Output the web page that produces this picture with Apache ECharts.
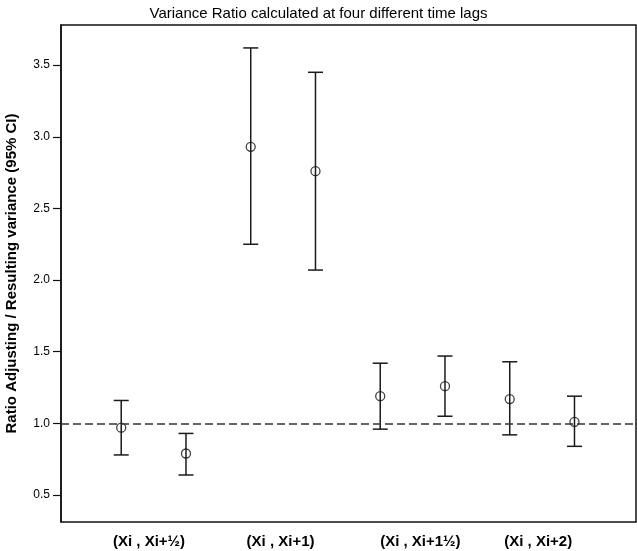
<!DOCTYPE html>
<html>
<head>
<meta charset="utf-8">
<script src="https://cdn.jsdelivr.net/npm/echarts@6/dist/echarts.min.js"></script>
<style>html,body{margin:0;padding:0;background:#fff}#c{width:637px;height:551px}</style>
</head>
<body>
<div id="c"></div>
<script>
// Data
const xPos = [1, 2, 3, 4, 5, 6, 7, 8];
const ratio = [0.97, 0.79, 2.93, 2.76, 1.19, 1.26, 1.17, 1.01];
const lower = [0.78, 0.64, 2.25, 2.07, 0.96, 1.05, 0.92, 0.84];
const upper = [1.16, 0.93, 3.62, 3.45, 1.42, 1.47, 1.43, 1.19];
const groupLabels = ['(Xi , Xi+½)', '(Xi , Xi+1)', '(Xi , Xi+1½)', '(Xi , Xi+2)'];
const groupLabelPos = [1.43, 3.46, 5.62, 7.44];
const yTicks = [0.5, 1.0, 1.5, 2.0, 2.5, 3.0, 3.5];
const refLine = 1.0;

const chart = echarts.init(document.getElementById('c'), null, {renderer: 'canvas'});
const FONT = 'Liberation Sans, Arial, sans-serif';

const errData = xPos.map((x, i) => [x, lower[i], upper[i]]);
const ptData = xPos.map((x, i) => [x, ratio[i]]);

chart.setOption({
  animation: false,
  backgroundColor: '#fff',
  title: {
    text: 'Variance Ratio calculated at four different time lags',
    left: 'center', top: 1,
    textStyle: {fontFamily: FONT, fontSize: 15, fontWeight: 'normal', color: '#000'}
  },
  grid: {left: 61, right: 1, top: 25, bottom: 29, show: true, borderColor: '#111', borderWidth: 1.5,
         backgroundColor: 'transparent', containLabel: false, outerBoundsMode: 'none'},
  xAxis: {
    type: 'value', min: 0.07, max: 8.95,
    axisLine: {show: false},
    axisTick: {show: false},
    splitLine: {show: false},
    axisLabel: {
      customValues: groupLabelPos,
      margin: 12,
      fontFamily: FONT, fontSize: 15, fontWeight: 'bold', color: '#000',
      formatter: function (v) {
        for (let i = 0; i < groupLabelPos.length; i++) {
          if (Math.abs(groupLabelPos[i] - v) < 1e-6) return groupLabels[i];
        }
        return '';
      }
    }
  },
  yAxis: {
    type: 'value', min: 0.312, max: 3.78,
    name: 'Ratio Adjusting / Resulting variance (95% CI)',
    nameLocation: 'middle', nameGap: 42,
    nameTextStyle: {fontFamily: FONT, fontSize: 15, fontWeight: 'bold', color: '#000'},
    axisLine: {show: true, lineStyle: {color: '#111', width: 1.5}},
    axisTick: {show: true, inside: false, length: 8, customValues: yTicks, lineStyle: {color: '#111', width: 1.2}},
    splitLine: {show: false},
    axisLabel: {
      customValues: yTicks,
      margin: 11,
      fontFamily: FONT, fontSize: 12, color: '#000',
      formatter: function (v) { return v.toFixed(1); }
    }
  },
  series: [
    {
      type: 'custom',
      data: errData,
      renderItem: function (params, api) {
        const x = api.value(0);
        const lo = api.coord([x, api.value(1)]);
        const hi = api.coord([x, api.value(2)]);
        const hw = 7.5;
        const style = {stroke: '#1a1a1a', lineWidth: 1.5};
        return {
          type: 'group',
          children: [
            {type: 'line', shape: {x1: lo[0], y1: lo[1], x2: hi[0], y2: hi[1]}, style: style},
            {type: 'line', shape: {x1: hi[0] - hw, y1: hi[1], x2: hi[0] + hw, y2: hi[1]}, style: style},
            {type: 'line', shape: {x1: lo[0] - hw, y1: lo[1], x2: lo[0] + hw, y2: lo[1]}, style: style}
          ]
        };
      },
      markLine: {
        silent: true,
        symbol: 'none',
        label: {show: false},
        lineStyle: {color: '#333', width: 1.5, type: [8, 4]},
        data: [{yAxis: refLine}]
      },
      z: 2
    },
    {
      type: 'scatter',
      data: ptData,
      symbol: 'circle',
      symbolSize: 9,
      itemStyle: {color: 'rgba(255,255,255,0)', borderColor: '#111', borderWidth: 1.3},
      z: 3
    }
  ]
});
</script>
</body>
</html>
